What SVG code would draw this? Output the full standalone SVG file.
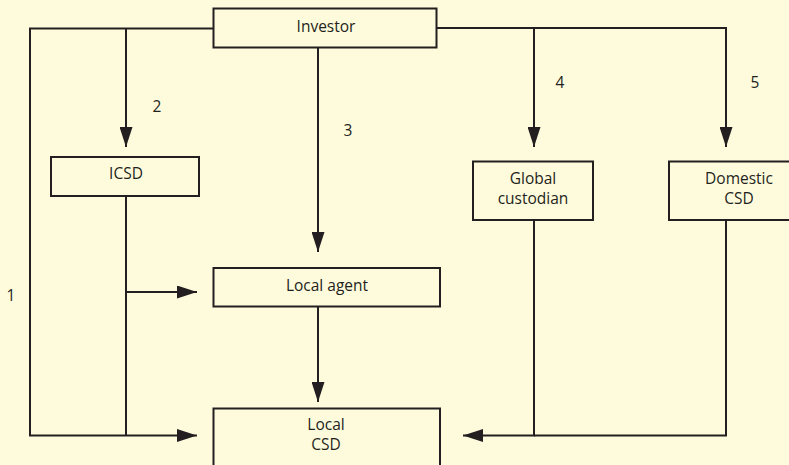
<svg xmlns="http://www.w3.org/2000/svg" width="789" height="465" viewBox="0 0 789 465">
<style>
.box{fill:#FEFBDC;stroke:#231F20;stroke-width:2}
.ln{fill:none;stroke:#231F20;stroke-width:2}
text{font-family:"Open Sans","Noto Sans","Liberation Sans",sans-serif;font-size:15.5px;fill:#231F20;text-anchor:middle}
</style>
<defs>
<marker id="ah" markerUnits="userSpaceOnUse" markerWidth="20" markerHeight="13" refX="20" refY="6.5" orient="auto" viewBox="0 0 20 13">
<path d="M0,0 L20,6.5 L0,13 z" fill="#231F20"/>
</marker>
</defs>
<rect width="789" height="465" fill="#FEFBDC"/>
<g id="connectors">
<polyline class="ln" points="213,28.5 30,28.5 30,435.5 197,435.5" marker-end="url(#ah)"/>
<polyline class="ln" points="126,28.5 126,147" marker-end="url(#ah)"/>
<line class="ln" x1="318" y1="48" x2="318" y2="252" marker-end="url(#ah)"/>
<polyline class="ln" points="437,28 726,28 726,147" marker-end="url(#ah)"/>
<line class="ln" x1="534" y1="28" x2="534" y2="147" marker-end="url(#ah)"/>
<line class="ln" x1="126" y1="196" x2="126" y2="435.5"/>
<line class="ln" x1="126" y1="292" x2="197" y2="292" marker-end="url(#ah)"/>
<line class="ln" x1="318" y1="306" x2="318" y2="402" marker-end="url(#ah)"/>
<polyline class="ln" points="534,220 534,435.5 463,435.5" marker-end="url(#ah)"/>
<polyline class="ln" points="726,220 726,435.5 534,435.5"/>
<text x="11" y="301">1</text>
<text x="157" y="112">2</text>
<text x="348" y="136">3</text>
<text x="560" y="88">4</text>
<text x="755" y="88">5</text>
</g>
<g id="investor">
<rect class="box" x="213.5" y="8.5" width="223" height="39"/>
<text x="326" y="31.5">Investor</text>
</g>
<g id="icsd">
<rect class="box" x="51" y="157" width="148" height="39"/>
<text x="126" y="179">ICSD</text>
</g>
<g id="global-custodian">
<rect class="box" x="473" y="161.5" width="120" height="58.5"/>
<text x="533" y="184">Global</text>
<text x="533" y="204">custodian</text>
</g>
<g id="domestic-csd">
<rect class="box" x="669" y="161.5" width="140" height="58.5"/>
<text x="739" y="184">Domestic</text>
<text x="739" y="204">CSD</text>
</g>
<g id="local-agent">
<rect class="box" x="213.5" y="268" width="226.5" height="38.5"/>
<text x="327" y="291">Local agent</text>
</g>
<g id="local-csd">
<rect class="box" x="213.5" y="408.5" width="226.5" height="80"/>
<text x="326" y="430">Local</text>
<text x="326" y="450">CSD</text>
</g>
</svg>
